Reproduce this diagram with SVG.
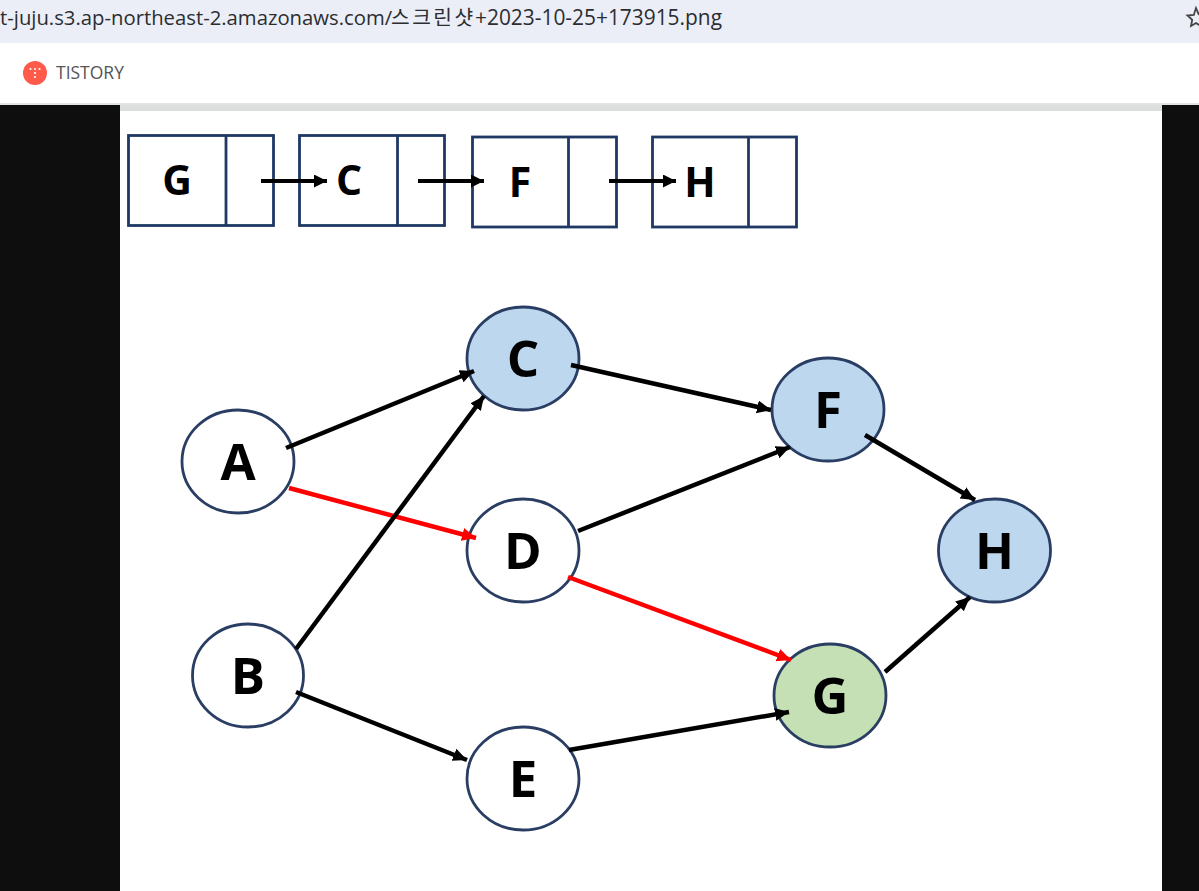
<svg xmlns="http://www.w3.org/2000/svg" width="1199" height="891" viewBox="0 0 1199 891">
<style>
.url{font-family:"Open Sans","Noto Sans CJK KR",sans-serif;font-size:20.300px;fill:#2b2d30}
.lbl{font-family:"Open Sans","Noto Sans CJK KR",sans-serif;font-weight:700;fill:#000;text-anchor:middle}
.big{font-size:51px}
.small{font-size:41px}
.box{fill:#fff;stroke:#1f3864;stroke-width:2.800}
.div{stroke:#1f3864;stroke-width:2.800;fill:none}
.n{stroke:#2a3d63;stroke-width:2.800}
.c{stroke-width:4.500;fill:none;stroke:#000;marker-end:url(#ab)}
.r{stroke-width:4.500;fill:none;stroke:#f00;marker-end:url(#ar)}
.t{stroke-width:4;fill:none;stroke:#000;marker-end:url(#at)}
</style>
<defs>
<marker id="ab" markerUnits="userSpaceOnUse" markerWidth="16" markerHeight="14" refX="14" refY="6.500" orient="auto"><path d="M0 0L14 6.500L0 13z" fill="#000"/></marker>
<marker id="ar" markerUnits="userSpaceOnUse" markerWidth="16" markerHeight="14" refX="14" refY="6.500" orient="auto"><path d="M0 0L14 6.500L0 13z" fill="#f00"/></marker>
<marker id="at" markerUnits="userSpaceOnUse" markerWidth="16" markerHeight="14" refX="13" refY="6.500" orient="auto"><path d="M0 0L13 6.500L0 13z" fill="#000"/></marker>
</defs>
<rect width="1199" height="891" fill="#fff"/>
<g id="browser">
<rect width="1199" height="43" fill="#ebeef7"/>
<rect y="43" width="1199" height="60" fill="#fff"/>
<rect y="103" width="1199" height="2" fill="#e2e4e2"/>
<text class="url" y="25"><tspan x="0">t-juju.s3.ap-northeast-2.amazonaws.com/</tspan><tspan x="391" letter-spacing="2.500">스크린샷</tspan><tspan x="475" font-size="20.900">+2023-10-25+173915.png</tspan></text>
<path d="M1196 8l2.600 6.200 3.400.3v3.500l-2 1.800.9 6.200-4.900-3-5 3 1.200-6.200-4.700-4.300 6.300-.5z" fill="none" stroke="#444" stroke-width="1.800"/>
<circle cx="35" cy="73" r="12" fill="#ff5a4a"/>
<g fill="#fff"><circle cx="30.500" cy="69" r="1.100"/><circle cx="35" cy="69" r="1.100"/><circle cx="39.500" cy="69" r="1.100"/><circle cx="35" cy="73" r="1.100"/><circle cx="35" cy="77" r="1.100"/></g>
<text x="56" y="79" font-family="'Open Sans',sans-serif" font-size="17.500px" fill="#555">TISTORY</text>
</g>
<g id="page">
<rect y="105" width="120" height="786" fill="#0e0e0e"/>
<rect x="1162" y="105" width="37" height="786" fill="#0e0e0e"/>
<rect x="120" y="105" width="1042" height="6" fill="#dcdedd"/>
</g>
<g id="list-g"><rect class="box" x="128.500" y="135.500" width="145" height="90"/><path class="div" d="M226 135.500V225.500"/><text class="lbl small" x="177" y="195">G</text></g>
<g id="list-c"><rect class="box" x="299.500" y="135.500" width="145" height="90"/><path class="div" d="M397.500 135.500V225.500"/><text class="lbl small" x="349" y="195">C</text></g>
<g id="list-f"><rect class="box" x="472.500" y="137" width="144" height="90"/><path class="div" d="M568.500 137V227"/><text class="lbl small" x="520" y="197">F</text></g>
<g id="list-h"><rect class="box" x="652.500" y="137" width="144" height="90"/><path class="div" d="M748.500 137V227"/><text class="lbl small" x="700" y="197">H</text></g>
<g id="node-a"><ellipse class="n" cx="238" cy="461.500" rx="56" ry="51.500" fill="#fff"/><text class="lbl big" x="238" y="480">A</text></g>
<g id="node-b"><ellipse class="n" cx="248" cy="675.500" rx="55.500" ry="51.500" fill="#fff"/><text class="lbl big" x="248" y="694">B</text></g>
<g id="node-c"><ellipse class="n" cx="523" cy="358.500" rx="56" ry="51.500" fill="#bdd7ee"/><text class="lbl big" x="523" y="377">C</text></g>
<g id="node-d"><ellipse class="n" cx="523" cy="550.500" rx="56" ry="51.500" fill="#fff"/><text class="lbl big" x="523" y="569">D</text></g>
<g id="node-e"><ellipse class="n" cx="523" cy="778.500" rx="56" ry="51.500" fill="#fff"/><text class="lbl big" x="523" y="797">E</text></g>
<g id="node-f"><ellipse class="n" cx="828" cy="409.500" rx="56" ry="51.500" fill="#bdd7ee"/><text class="lbl big" x="828" y="428">F</text></g>
<g id="node-g"><ellipse class="n" cx="830" cy="695.500" rx="56" ry="51.500" fill="#c5e0b4"/><text class="lbl big" x="830" y="714">G</text></g>
<g id="node-h"><ellipse class="n" cx="994.500" cy="550.500" rx="56" ry="51.500" fill="#bdd7ee"/><text class="lbl big" x="994.500" y="569">H</text></g>
<g id="connectors">
<path class="t" d="M261 181H327"/>
<path class="t" d="M418 181H484"/>
<path class="t" d="M609 181H676"/>
<path class="c" d="M286 448L474 371"/>
<path class="r" d="M289 488L476 538"/>
<path class="c" d="M296 649L484 396"/>
<path class="c" d="M296 692L467 760"/>
<path class="c" d="M571 365L771 410"/>
<path class="c" d="M578 531L790 447"/>
<path class="r" d="M568 577L791 660"/>
<path class="c" d="M569 750L789 712"/>
<path class="c" d="M865 435L975 500"/>
<path class="c" d="M885 672L970 597"/>
</g>
</svg>
